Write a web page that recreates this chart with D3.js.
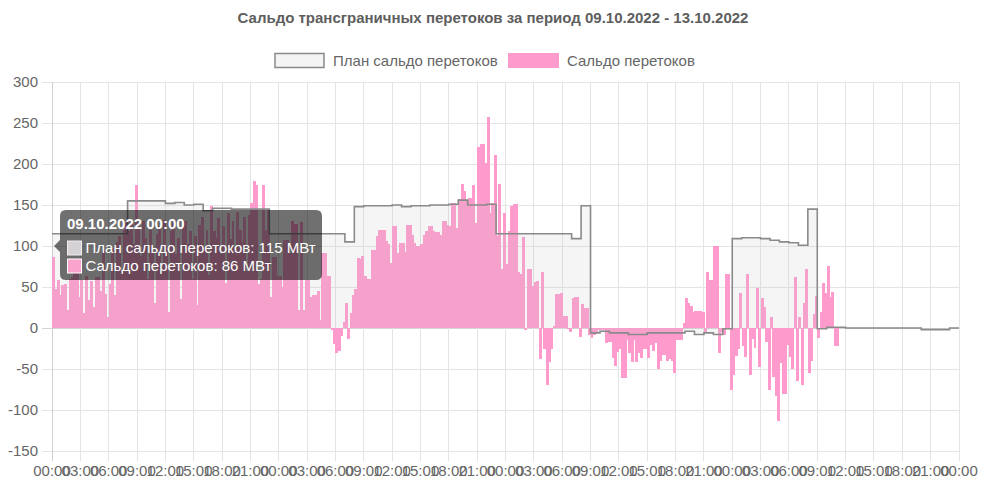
<!DOCTYPE html>
<html><head><meta charset="utf-8">
<script src="https://cdn.jsdelivr.net/npm/d3@7"></script>
<style>
body{margin:0;background:#fff}
svg{display:block}
text{font-family:"Liberation Sans",Arial,Helvetica,sans-serif}
</style>
</head><body>
<svg id="chart" width="986" height="503"></svg>
<script>
const chartTitle = "Сальдо трансграничных перетоков за период 09.10.2022 - 13.10.2022";
const seriesNames = ["План сальдо перетоков", "Сальдо перетоков"];
const unit = "МВт";
const yTicks = [-150, -100, -50, 0, 50, 100, 150, 200, 250, 300];
const xTickHours = [0,3,6,9,12,15,18,21,24,27,30,33,36,39,42,45,48,51,54,57,60,63,66,69,72,75,78,81,84,87,90,93,96];
const xTickLabels = ["00:00","03:00","06:00","09:00","12:00","15:00","18:00","21:00",
  "00:00","03:00","06:00","09:00","12:00","15:00","18:00","21:00",
  "00:00","03:00","06:00","09:00","12:00","15:00","18:00","21:00",
  "00:00","03:00","06:00","09:00","12:00","15:00","18:00","21:00","00:00"];
const tooltipTitle = "09.10.2022 00:00";

// hourly plan (96 hours)
const planHourly = [
  115,115,115,115,115,115,115,115,155,155,155,155,
  152,153,150,151,143,146,146,145,145,145,145,
  115,115,115,115,115,115,115,115,105,
  148,149,149,149,150,148,149,149,150,150,151,156,150,150,151,
  115,115,115,115,115,115,115,115,109,149,
  -6,-4,-6,-6,-8,-8,-6,-6,-6,-6,-4,-8,-6,-8,-1,
  109,110,110,109,107,105,104,101,145,
  -1,1,1,0,0,0,0,0,0,0,0,-2,-2,-2,0
];

// actual, 15-minute steps starting 09.10.2022 00:00
const actual15 = [
  86,48,58,40, 52,54,22,60, 62,83,83,38, 58,18,63,34, 57,26,62,62, 45,95,42,14,
  54,98,40,105, 112,66,120,128, 118,132,102,174, 125,88,130,110, 60,120,95,30, 115,125,75,132,
  100,20,118,128, 90,110,35,124, 130,102,118,60, 112,28,126,135, 96,120,65,149, 118,110,134,90,
  125,55,140,108, 130,98,142,120, 105,135,70,138, 152,179,175,54, 60,174,120,144, 38,87,87,63,
  63,50,107,107, 91,131,127,127, 22,129,22,58, 58,38,40,40, 45,10,91,91, 63,63,-2,-20,
  -31,-28,-10,7, 30,-13,18,40, 47,85,84,88, 64,60,60,95, 95,112,120,120, 120,106,102,79,
  125,125,92,104, 104,93,126,126, 114,104,100,100, 102,113,118,125, 124,118,117,117, 114,130,130,126,
  125,153,153,122, 157,176,167,156, 159,159,174,128, 221,224,225,201, 257,140,152,211, 112,176,72,140,
  78,118,149,151, 151,68,66,111, -2,72,72,51, 56,57,-38,68, -26,-70,-42,-26, 3,41,41,43,
  15,15,-1,-5, 37,38,38,-11, 29,25,25,-9, -12,-9,-5,-3, -3,-3,-18,-17, -17,-36,-46,-29,
  -26,-61,-61,-15, -30,-42,-15,-42, -30,-36,-26,-26, -36,-21,-28,-18, -50,-40,-33,-33, -40,-38,-40,-55,
  -15,-15,-15,6, 37,31,27,19, 21,21,21,19, -5,68,58,58, 100,100,-30,-5, -8,66,66,-76,
  -57,-34,-26,43, -22,-35,66,-57, -13,-24,49,-48, 36,26,-17,-76, 13,-60,-83,-113, -43,-80,-80,-21,
  -35,-50,62,-65, 13,-70,31,72, -55,-40,17,39, -12,20,55,43, 76,38,44,-22, -22
];

const pLeft = 52, pRight = 959, pTop = 82, pBottom = 451;
const svg = d3.select("#chart");
const x = d3.scaleLinear().domain([0, 96]).range([pLeft, pRight]);
const y = d3.scaleLinear().domain([-150, 300]).range([pBottom, pTop]);

// title
svg.append("text").attr("x", 493).attr("y", 23).attr("text-anchor", "middle")
  .attr("font-size", 15).attr("font-weight", "bold").attr("fill", "#5e5e5e").text(chartTitle);

// legend
const lg = svg.append("g");
lg.append("rect").attr("x", 275).attr("y", 53.5).attr("width", 49).attr("height", 14)
  .attr("fill", "#f4f4f4").attr("stroke", "#8a8a8a").attr("stroke-width", 1.5);
lg.append("text").attr("x", 333).attr("y", 66).attr("font-size", 15).attr("fill", "#666").text(seriesNames[0]);
lg.append("rect").attr("x", 508).attr("y", 53).attr("width", 51).attr("height", 15).attr("fill", "#ff9acc");
lg.append("text").attr("x", 567).attr("y", 66).attr("font-size", 15).attr("fill", "#666").text(seriesNames[1]);

// grid
const grid = svg.append("g");
yTicks.forEach(v => {
  grid.append("line").attr("x1", 42).attr("x2", pRight).attr("y1", y(v)).attr("y2", y(v))
    .attr("stroke", v === 0 ? "#d4d4d4" : "#e4e4e4").attr("stroke-width", 1).attr("shape-rendering", "crispEdges");
  grid.append("text").attr("x", 38).attr("y", y(v) + 5).attr("text-anchor", "end")
    .attr("font-size", 15).attr("fill", "#666").text(v);
});
xTickHours.forEach((h, i) => {
  grid.append("line").attr("x1", x(h)).attr("x2", x(h)).attr("y1", pTop).attr("y2", pBottom + 10)
    .attr("stroke", i === 0 ? "#cfcfcf" : "#e4e4e4").attr("stroke-width", 1).attr("shape-rendering", "crispEdges");
  grid.append("text").attr("x", x(h)).attr("y", 476).attr("text-anchor", "middle")
    .attr("font-size", 15).attr("fill", "#666").text(xTickLabels[i]);
});

// clip
svg.append("clipPath").attr("id", "plot").append("rect")
  .attr("x", pLeft).attr("y", pTop).attr("width", pRight - pLeft).attr("height", pBottom - pTop);
const plot = svg.append("g").attr("clip-path", "url(#plot)");

// bars
const step = 0.25;
const bw = x(step) - x(0);
plot.append("g").attr("shape-rendering", "crispEdges")
  .selectAll("rect").data(actual15).join("rect")
  .attr("x", (d, i) => x(i * step))
  .attr("width", bw + 0.6)
  .attr("y", d => y(Math.max(d, 0)))
  .attr("height", d => Math.abs(y(d) - y(0)))
  .attr("fill", "#ff9acc");

// plan area + line (step after)
const planPts = planHourly.map((v, i) => [i, v]);
planPts.push([planHourly.length, planHourly[planHourly.length - 1]]);
const area = d3.area().x(d => x(d[0])).y0(y(0)).y1(d => y(d[1])).curve(d3.curveStepAfter);
const line = d3.line().x(d => x(d[0])).y(d => y(d[1])).curve(d3.curveStepAfter);
plot.append("path").datum(planPts).attr("d", area).attr("fill", "rgba(195,195,200,0.17)");
plot.append("path").datum(planPts).attr("d", line).attr("fill", "none")
  .attr("stroke", "#8a8a8a").attr("stroke-width", 1.6);

// tooltip
const tt = svg.append("g");
const bx = 60, by = 210, bwid = 262, bh = 70, r = 6;
const cy = 246;
const p = d3.path();
p.moveTo(bx + r, by);
p.lineTo(bx + bwid - r, by); p.quadraticCurveTo(bx + bwid, by, bx + bwid, by + r);
p.lineTo(bx + bwid, by + bh - r); p.quadraticCurveTo(bx + bwid, by + bh, bx + bwid - r, by + bh);
p.lineTo(bx + r, by + bh); p.quadraticCurveTo(bx, by + bh, bx, by + bh - r);
p.lineTo(bx, cy + 6); p.lineTo(bx - 6, cy); p.lineTo(bx, cy - 6);
p.lineTo(bx, by + r); p.quadraticCurveTo(bx, by, bx + r, by);
p.closePath();
tt.append("path").attr("d", p.toString()).attr("fill", "rgba(0,0,0,0.56)");
tt.append("text").attr("x", 67).attr("y", 229).attr("font-size", 15).attr("font-weight", "bold")
  .attr("fill", "#fff").text(tooltipTitle);
tt.append("rect").attr("x", 67.5).attr("y", 241).attr("width", 14).attr("height", 14)
  .attr("fill", "#d6d1d4").attr("stroke", "#eee").attr("stroke-width", 1);
tt.append("text").attr("x", 85.5).attr("y", 252.5).attr("font-size", 15).attr("fill", "#fff")
  .text(seriesNames[0] + ": " + planHourly[0] + " " + unit);
tt.append("rect").attr("x", 67.5).attr("y", 259).attr("width", 14).attr("height", 14)
  .attr("fill", "#f9a3cd").attr("stroke", "#fff").attr("stroke-width", 1);
tt.append("text").attr("x", 85.5).attr("y", 271).attr("font-size", 15).attr("fill", "#fff")
  .text(seriesNames[1] + ": " + actual15[0] + " " + unit);
</script>
</body></html>
